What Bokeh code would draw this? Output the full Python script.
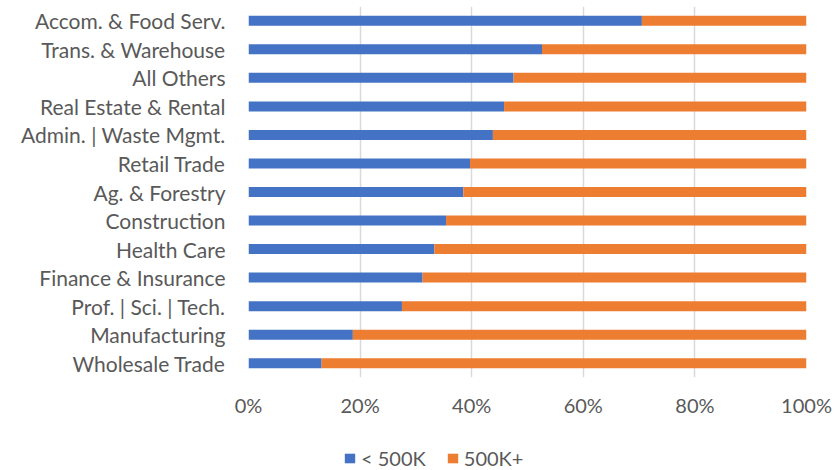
from bokeh.plotting import figure
from bokeh.models import ColumnDataSource, Legend, LegendItem, FactorRange, NumeralTickFormatter, FixedTicker
from bokeh.layouts import column
from bokeh.embed import file_html
from bokeh.resources import INLINE

categories = ["Wholesale Trade", "Manufacturing", "Prof. | Sci. | Tech.", "Finance & Insurance",
              "Health Care", "Construction", "Ag. & Forestry", "Retail Trade",
              "Admin. | Waste Mgmt.", "Real Estate & Rental", "All Others",
              "Trans. & Warehouse", "Accom. & Food Serv."]
under_500k = [0.131, 0.187, 0.275, 0.312, 0.333, 0.354, 0.385, 0.397,
              0.438, 0.458, 0.475, 0.526, 0.705]
over_500k = [1 - v for v in under_500k]
series_names = ["< 500K", "500K+"]
x_ticks = [0, 0.2, 0.4, 0.6, 0.8, 1.0]

BLUE = "#4472C4"
ORANGE = "#ED7D31"
TEXT = "#595959"
FONT = "Lato"

source = ColumnDataSource(dict(cat=categories, a=under_500k, b=over_500k))

p = figure(y_range=FactorRange(*categories), x_range=(0, 1),
           frame_width=558, frame_height=371, output_backend="svg", toolbar_location=None,
           min_border_top=6, min_border_left=248, min_border_right=30, min_border_bottom=60)

r = p.hbar_stack(["a", "b"], y="cat", height=0.35, color=[BLUE, ORANGE], source=source,
                 line_color=None)

p.outline_line_color = None
p.ygrid.grid_line_color = None
p.xgrid.grid_line_color = "#d9d9d9"
p.xgrid.grid_line_width = 1.5
p.xaxis.ticker = FixedTicker(ticks=x_ticks)
p.xaxis.formatter = NumeralTickFormatter(format="0%")
for ax in (p.xaxis[0], p.yaxis[0]):
    ax.axis_line_color = None
    ax.major_tick_line_color = None
    ax.minor_tick_line_color = None
    ax.major_tick_out = 0
    ax.major_tick_in = 0
    ax.minor_tick_out = 0
    ax.major_label_text_color = TEXT
    ax.major_label_text_font = FONT
p.xaxis.major_label_text_font_size = "20px"
p.yaxis.major_label_text_font_size = "21px"
p.xaxis.major_label_standoff = 15
p.yaxis.major_label_standoff = 23

# legend strip below the chart (its frame is aligned with the chart's frame)
leg = figure(width=836, height=33, x_range=(0, 1), y_range=(0, 1),
             output_backend="svg", toolbar_location=None,
             min_border_left=0, min_border_right=0, min_border_top=0, min_border_bottom=0)
leg.axis.visible = False
leg.grid.visible = False
leg.outline_line_color = None
colors = [BLUE, ORANGE]
nan = float("nan")
dummies = [leg.hbar(y=[nan], right=[nan], height=0.35, fill_color=c, line_color=None)
           for c in colors]

legend = Legend(items=[LegendItem(label=n, renderers=[d]) for n, d in zip(series_names, dummies)],
                orientation="horizontal", location=(95, 0),
                glyph_width=13, glyph_height=12, label_standoff=5, spacing=20,
                padding=0, margin=0, border_line_color=None, background_fill_alpha=0,
                label_text_color=TEXT, label_text_font=FONT, label_text_font_size="20px")
leg.add_layout(legend, "center")

layout = column(p, leg, spacing=0)
open("out.html", "w").write(file_html(layout, INLINE))
